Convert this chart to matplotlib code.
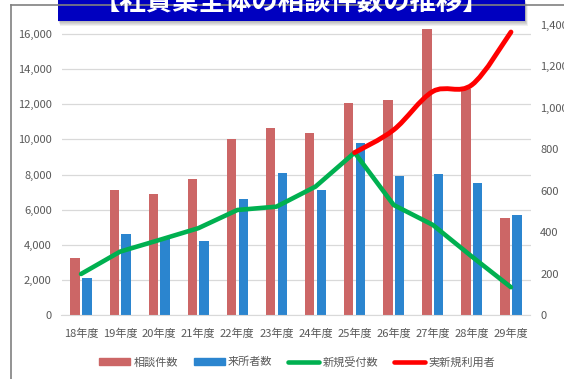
import numpy as np
import matplotlib
matplotlib.use('Agg')
import matplotlib.pyplot as plt
from matplotlib.path import Path
from matplotlib.patches import PathPatch, Rectangle, Patch
from matplotlib.lines import Line2D

plt.rcParams['font.family'] = ['Noto Sans CJK JP', 'DejaVu Sans']
plt.rcParams['text.color'] = '#595959'

years = ['18年度', '19年度', '20年度', '21年度', '22年度', '23年度',
         '24年度', '25年度', '26年度', '27年度', '28年度', '29年度']
soudan = [3230, 7120, 6880, 7730, 10030, 10650, 10350, 12060, 12250, 16300, 12880, 5510]
raisho = [2130, 4600, 4400, 4220, 6610, 8070, 7120, 9780, 7920, 8030, 7500, 5700]
shinki_uketsuke = [198, 306, 362, 419, 507, 523, 620, 784, 531, 435, 282, 134]
jitsu_idx = [7, 8, 9, 10, 11]
jitsu_riyou = [784, 894, 1079, 1111, 1366]
title = '【社資業全体の相談件数の推移】'

W, H = 564, 379
fig = plt.figure(figsize=(W / 100, H / 100), dpi=100)

# outer frame (top and left edges only visible)
fig.add_artist(Line2D([11 / W, 1], [1 - 5 / H, 1 - 5 / H], color='#808080', lw=1.2,
                      transform=fig.transFigure))
fig.add_artist(Line2D([11 / W, 11 / W], [0, 1 - 5 / H], color='#808080', lw=1.2,
                      transform=fig.transFigure))

ax = fig.add_axes([61.5 / W, (H - 315) / H, 469 / W, 290 / H])
ax2 = ax.twinx()

x = np.arange(len(years))
bw = 0.24
ax.bar(x - 0.15, soudan, bw, color='#CC6666', label='相談件数', zorder=2)
ax.bar(x + 0.15, raisho, bw, color='#2B85CF', label='来所者数', zorder=2)

ax.set_xlim(-0.5, len(years) - 0.5)
ax.set_ylim(0, 16000 * 290 / 281)
ax.set_yticks(np.arange(0, 16001, 2000))
ax.yaxis.set_major_formatter(matplotlib.ticker.StrMethodFormatter('{x:,.0f}'))
ax.set_xticks(x)
ax.set_xticklabels(years)
ax.grid(axis='y', color='#D9D9D9', lw=0.9)
ax.set_axisbelow(True)
for s in ['top', 'left', 'right']:
    ax.spines[s].set_visible(False)
ax.spines['bottom'].set_color('#D9D9D9')
ax.tick_params(axis='both', length=0, labelsize=8, colors='#595959')
ax.tick_params(axis='y', pad=7)
ax.tick_params(axis='x', pad=10)

ax2.plot(x, shinki_uketsuke, color='#00B050', lw=3.3, solid_capstyle='round',
         solid_joinstyle='round', label='新規受付数', zorder=3)

# smoothed curve for 実新規利用者 (Catmull-Rom as cubic Bezier segments)
px = np.array(jitsu_idx, dtype=float)
py = np.array(jitsu_riyou, dtype=float)
verts = [(px[0], py[0])]
codes = [Path.MOVETO]
n = len(px)
for i in range(n - 1):
    p0 = np.array([px[max(i - 1, 0)], py[max(i - 1, 0)]])
    p1 = np.array([px[i], py[i]])
    p2 = np.array([px[i + 1], py[i + 1]])
    p3 = np.array([px[min(i + 2, n - 1)], py[min(i + 2, n - 1)]])
    c1 = p1 + (p2 - p0) / 6
    c2 = p2 - (p3 - p1) / 6
    verts += [tuple(c1), tuple(c2), tuple(p2)]
    codes += [Path.CURVE4] * 3
ax2.add_patch(PathPatch(Path(verts, codes), fill=False, edgecolor='#FF0000', lw=3.5,
                        capstyle='round', joinstyle='round', zorder=4))

ax2.set_ylim(0, 1400)
ax2.set_yticks(np.arange(0, 1401, 200))
ax2.yaxis.set_major_formatter(matplotlib.ticker.StrMethodFormatter('{x:,.0f}'))
for s in ax2.spines.values():
    s.set_visible(False)
ax2.tick_params(axis='y', length=0, labelsize=8, colors='#595959', pad=7)

handles = [Patch(color='#CC6666'), Patch(color='#2B85CF'),
           Line2D([], [], color='#00B050', lw=3.3, solid_capstyle='round'),
           Line2D([], [], color='#FF0000', lw=3.3, solid_capstyle='round')]
labels = ['相談件数', '来所者数', '新規受付数', '実新規利用者']
fig.legend(handles, labels, loc='center', bbox_to_anchor=(297 / W, 17 / H), ncol=4,
           frameon=False, fontsize=8, handlelength=2.8, handleheight=0.7,
           handletextpad=0.3, columnspacing=1.4)

# title banner with soft shadow
for k in range(6):
    fig.add_artist(Rectangle(((58 + k * 0.4) / W, 1 - (20.5 + k) / H), (467 + 0.5) / W, 21 / H,
                             transform=fig.transFigure, color='#000000',
                             alpha=0.06, lw=0))
fig.add_artist(Rectangle((58 / W, 1 - 20.5 / H), 467 / W, 25 / H,
                         transform=fig.transFigure, color='#0000C0', lw=0))
fig.text(291 / W, 1 - 3 / H, title, color='white', fontsize=19, fontweight='bold',
         ha='center', va='center')

fig.savefig('out.png', dpi=100)
